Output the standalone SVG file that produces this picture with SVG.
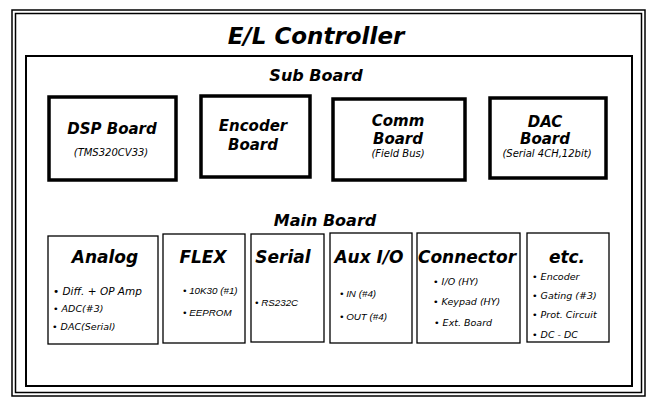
<svg xmlns="http://www.w3.org/2000/svg" width="647" height="398" viewBox="0 0 647 398">
<style>
.frame{fill:none;stroke:#000;stroke-width:1.5}
.inner{fill:none;stroke:#000;stroke-width:2}
.sub{fill:#fff;stroke:#000;stroke-width:3.5}
.main{fill:#fff;stroke:#000;stroke-width:1.3}
text{font-family:"DejaVu Sans","Liberation Sans",sans-serif;fill:#000}
.h{font-weight:bold;font-style:italic;text-anchor:middle}
.t{font-size:23px}
.sec{font-size:16px}
.sb{font-size:15px}
.mb{font-size:17px}
.note{font-style:italic;font-size:10px;text-anchor:middle}
.li{font-style:italic;font-size:9.5px}
.ln{font-family:"Liberation Sans","DejaVu Sans",sans-serif;font-size:9.8px}
</style>
<rect x="0" y="0" width="647" height="398" fill="#fff"/>
<rect class="frame" x="12" y="10" width="633" height="386"/>
<rect class="frame" x="15.5" y="13.5" width="626" height="379"/>
<text class="h t" x="316" y="44">E/L Controller</text>
<rect class="inner" x="26" y="56" width="606" height="330"/>
<text class="h sec" x="316" y="81">Sub Board</text>
<text class="h sec" x="325" y="226">Main Board</text>

<g id="dsp">
<rect class="sub" x="49" y="97" width="127" height="83"/>
<text class="h sb" x="112" y="134">DSP Board</text>
<text class="note" x="111" y="156">(TMS320CV33)</text>
</g>
<g id="encoder">
<rect class="sub" x="201" y="96" width="109" height="81"/>
<text class="h sb" x="253" y="131">Encoder</text>
<text class="h sb" x="253" y="150">Board</text>
</g>
<g id="comm">
<rect class="sub" x="333" y="99" width="132" height="81"/>
<text class="h sb" x="398" y="126">Comm</text>
<text class="h sb" x="398" y="144">Board</text>
<text class="note" x="398" y="157">(Field Bus)</text>
</g>
<g id="dac">
<rect class="sub" x="490" y="98" width="116" height="80"/>
<text class="h sb" x="545" y="127">DAC</text>
<text class="h sb" x="545" y="144">Board</text>
<text class="note" x="547" y="157">(Serial 4CH,12bit)</text>
</g>

<g id="analog">
<rect class="main" x="48" y="236" width="110" height="108"/>
<text class="h mb" x="105" y="263">Analog</text>
<text class="li" x="53" y="295" style="font-size:10.5px">•  Diff. + OP Amp</text>
<text class="li" x="53" y="312">•  ADC(#3)</text>
<text class="li" x="52" y="330">• DAC(Serial)</text>
</g>
<g id="flex">
<rect class="main" x="163" y="234" width="82" height="109"/>
<text class="h mb" x="203" y="263">FLEX</text>
<text class="li ln" x="183" y="294">• 10K30 (#1)</text>
<text class="li ln" x="183" y="316">• EEPROM</text>
</g>
<g id="serial">
<rect class="main" x="251" y="234" width="73" height="108"/>
<text class="h mb" x="283" y="263">Serial</text>
<text class="li ln" x="255" y="306">• RS232C</text>
</g>
<g id="auxio">
<rect class="main" x="330" y="233" width="82" height="110"/>
<text class="h mb" x="369" y="263">Aux I/O</text>
<text class="li ln" x="340" y="297">• IN (#4)</text>
<text class="li ln" x="340" y="320">• OUT (#4)</text>
</g>
<g id="connector">
<rect class="main" x="417" y="233" width="103" height="110"/>
<text class="h mb" x="467" y="263">Connector</text>
<text class="li" x="433" y="285">•  I/O (HY)</text>
<text class="li" x="433" y="305">•  Keypad (HY)</text>
<text class="li" x="434" y="326">•  Ext. Board</text>
</g>
<g id="etc">
<rect class="main" x="527" y="233" width="82" height="109"/>
<text class="h mb" x="567" y="263">etc.</text>
<text class="li" x="532" y="280">• Encoder</text>
<text class="li" x="532" y="299">• Gating (#3)</text>
<text class="li" x="532" y="318">• Prot. Circuit</text>
<text class="li" x="532" y="338">•  DC - DC</text>
</g>
<g id="connectors"></g>
</svg>
